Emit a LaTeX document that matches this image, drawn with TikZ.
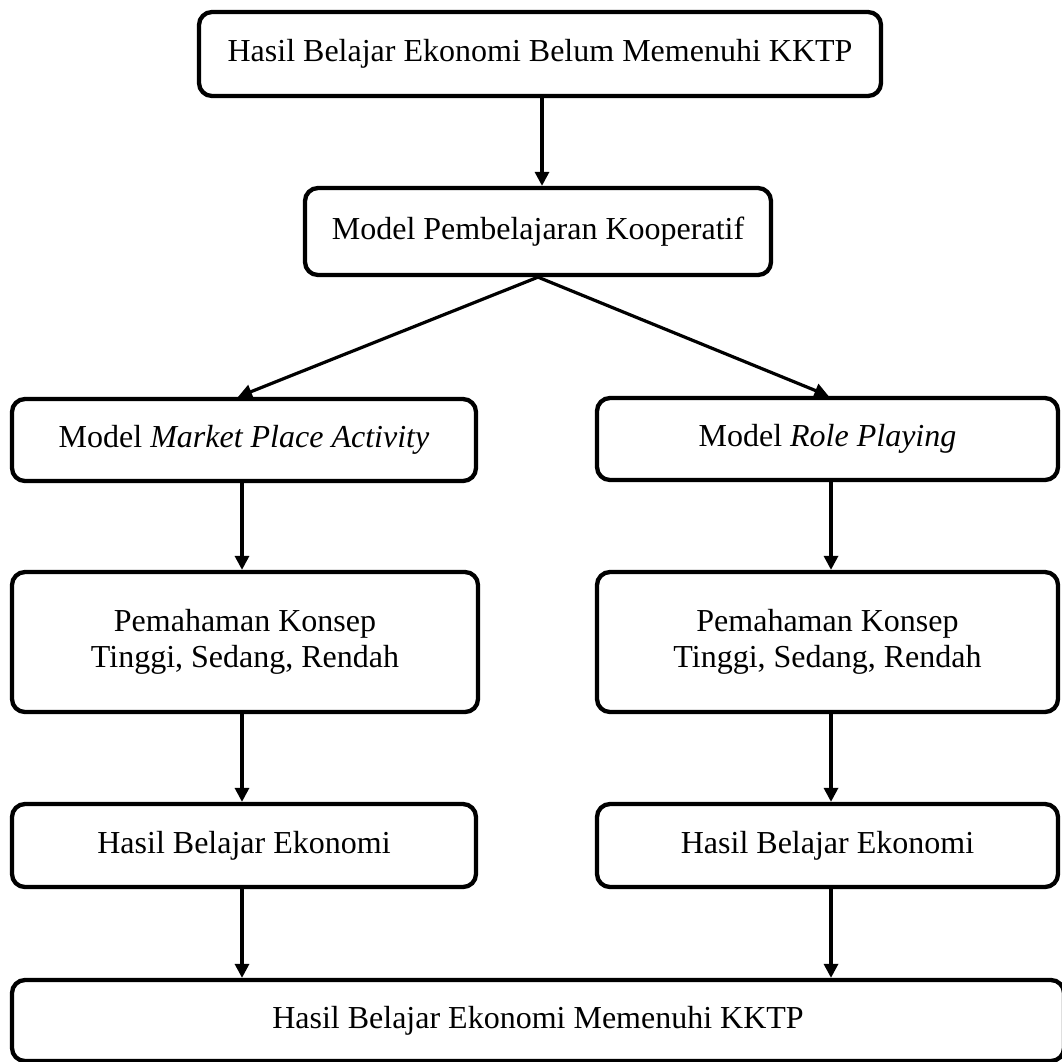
\documentclass[tikz,border=0pt]{standalone}
\usepackage{fontspec}
\setmainfont{Liberation Serif}
\usetikzlibrary{arrows.meta}
\tikzset{
  box/.style={draw, line width=4.3pt, rounded corners=13pt, inner sep=0pt,
    font=\fontsize{32}{35.5}\selectfont, align=center},
  arr/.style={line width=3.2pt, -{Triangle[length=14pt,width=14pt]}}
}
\begin{document}
\begin{tikzpicture}[x=1pt,y=-1pt]
\useasboundingbox (0,0) rectangle (1062,1061);
\node[box, minimum width=682pt, minimum height=84pt] (b1) at (540,54) {Hasil Belajar Ekonomi Belum Memenuhi KKTP};
\node[box, minimum width=466pt, minimum height=87pt] (b2) at (538,231.5) {Model Pembelajaran Kooperatif};
\node[box, minimum width=464pt, minimum height=82pt] (b3l) at (244,440) {Model \textit{Market Place Activity}};
\node[box, minimum width=461pt, minimum height=82pt] (b3r) at (827.5,439) {Model \textit{Role Playing}};
\node[box, minimum width=466pt, minimum height=140pt] (b4l) at (245,642) {Pemahaman Konsep\\Tinggi, Sedang, Rendah};
\node[box, minimum width=461pt, minimum height=140pt] (b4r) at (827.5,642) {Pemahaman Konsep\\Tinggi, Sedang, Rendah};
\node[box, minimum width=464pt, minimum height=83pt] (b5l) at (244,845.5) {Hasil Belajar Ekonomi};
\node[box, minimum width=461pt, minimum height=83pt] (b5r) at (827.5,845.5) {Hasil Belajar Ekonomi};
\node[box, minimum width=1052pt, minimum height=81pt] (b6) at (538,1020.5) {Hasil Belajar Ekonomi Memenuhi KKTP};

\draw[arr] ([xshift=2pt]b1.south) -- ([xshift=2pt]b1.south |- b2.north);
\draw[arr] (b2.south) -- ([xshift=-6pt]b3l.north);
\draw[arr] (b2.south) -- ([xshift=1pt]b3r.north);
\draw[arr] ([xshift=-2pt]b3l.south) -- ([xshift=-2pt]b3l.south |- b4l.north);
\draw[arr] ([xshift=3.5pt]b3r.south) -- ([xshift=3.5pt]b3r.south |- b4r.north);
\draw[arr] ([xshift=-3pt]b4l.south) -- ([xshift=-3pt]b4l.south |- b5l.north);
\draw[arr] ([xshift=3.5pt]b4r.south) -- ([xshift=3.5pt]b4r.south |- b5r.north);
\draw[arr] ([xshift=-2pt]b5l.south) -- ([xshift=-2pt]b5l.south |- b6.north);
\draw[arr] ([xshift=3.5pt]b5r.south) -- ([xshift=3.5pt]b5r.south |- b6.north);
\end{tikzpicture}
\end{document}
